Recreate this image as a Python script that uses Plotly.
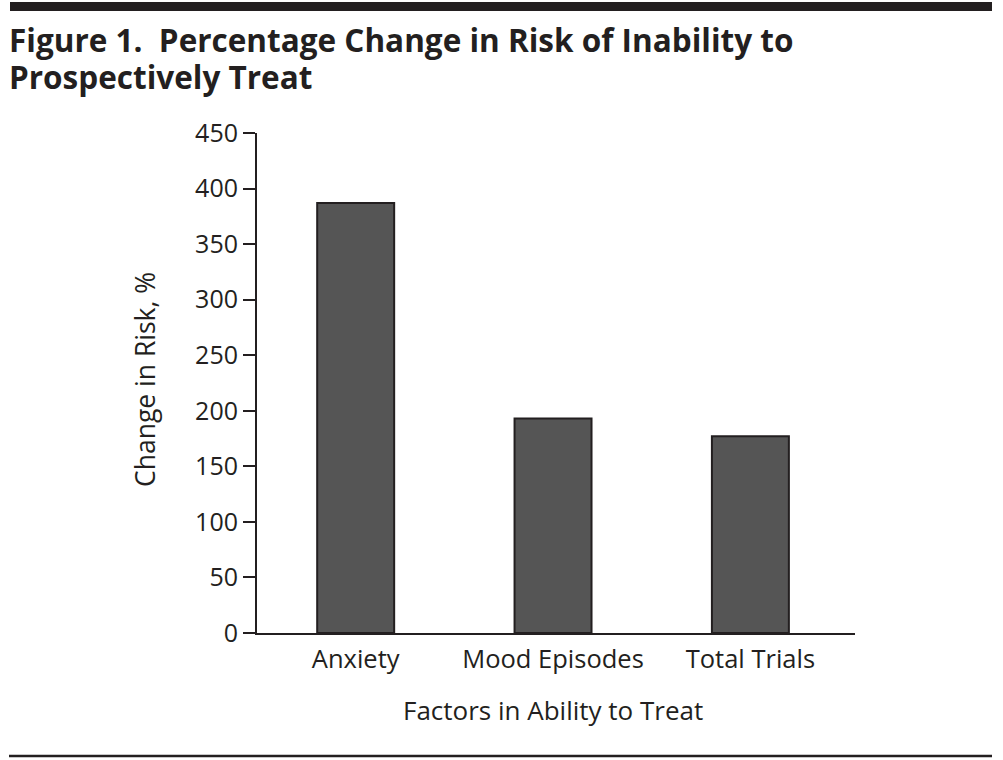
import plotly.graph_objects as go

categories = ["Anxiety", "Mood Episodes", "Total Trials"]
values = [387, 193, 177]
y_ticks = [0, 50, 100, 150, 200, 250, 300, 350, 400, 450]

W, H = 1003, 760
L, T = 257, 133
R = W - 855
B = H - 633
pw, ph = W - L - R, H - T - B

def px_x(x):
    return (x - L) / pw

def px_y(y):
    return (H - B - y) / ph

FONT = "Open Sans"
TXT = "#231f20"

fig = go.Figure(go.Bar(
    x=categories, y=values, width=0.39,
    marker=dict(color="#555555", line=dict(color="#231f20", width=2)),
    hoverinfo="skip",
))

fig.update_layout(
    width=W, height=H,
    margin=dict(l=L, r=R, t=T, b=B, autoexpand=False),
    paper_bgcolor="white", plot_bgcolor="white",
    showlegend=False,
    font=dict(family=FONT, color=TXT, size=25),
    xaxis=dict(range=[-0.5, 2.53], showline=True, linecolor=TXT, linewidth=2,
               ticks="", showgrid=False, zeroline=False,
               tickfont=dict(size=25.5, color=TXT), ticklabelstandoff=2),
    yaxis=dict(range=[0, 450], tickvals=y_ticks, showline=True, linecolor=TXT,
               linewidth=2, ticks="outside", ticklen=12, tickwidth=2, tickcolor=TXT,
               showgrid=False, zeroline=False, tickfont=dict(size=25, color=TXT)),
    shapes=[
        dict(type="rect", xref="paper", yref="paper", x0=px_x(10), x1=px_x(992),
             y0=px_y(11), y1=px_y(2), fillcolor="#231f20", line=dict(width=0)),
        dict(type="line", xref="paper", yref="paper", x0=px_x(9), x1=px_x(992),
             y0=px_y(756), y1=px_y(756), line=dict(color="#231f20", width=2.5)),
    ],
    annotations=[
        dict(text="<b>Figure 1.  Percentage Change in Risk of Inability to</b>",
             xref="paper", yref="paper", x=px_x(7), y=px_y(39), xanchor="left",
             yanchor="middle", showarrow=False, font=dict(size=31.5, color=TXT, family=FONT)),
        dict(text="<b>Prospectively Treat</b>",
             xref="paper", yref="paper", x=px_x(7), y=px_y(77), xanchor="left",
             yanchor="middle", showarrow=False, font=dict(size=31.5, color=TXT, family=FONT)),
        dict(text="Change in Risk, %", xref="paper", yref="paper", x=px_x(145),
             y=px_y(380), textangle=-90, xanchor="center", yanchor="middle",
             showarrow=False, font=dict(size=26.5, color=TXT, family=FONT)),
        dict(text="Factors in Ability to Treat", xref="paper", yref="paper",
             x=px_x(553), y=px_y(710), xanchor="center", yanchor="middle",
             showarrow=False, font=dict(size=26, color=TXT, family=FONT)),
    ],
)

fig.write_html("out.html", config={"displayModeBar": False},
               post_script="document.body.style.margin='0';")
